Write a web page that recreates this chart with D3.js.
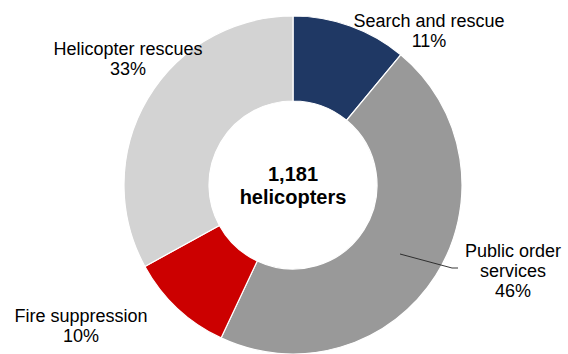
<!DOCTYPE html>
<html>
<head>
<meta charset="utf-8">
<script src="https://cdn.jsdelivr.net/npm/d3@7"></script>
<style>
  html, body { margin: 0; padding: 0; background: #fff; }
  svg { display: block; }
  text { font-family: "Liberation Sans", Arial, sans-serif; fill: #000; }
</style>
</head>
<body>
<svg id="chart" width="568" height="354"></svg>
<script>
const categories = ["Search and rescue", "Public order services", "Fire suppression", "Helicopter rescues"];
const values = [11, 46, 10, 33];
const labelLines = [["Search and rescue"], ["Public order", "services"], ["Fire suppression"], ["Helicopter rescues"]];
const colors = ["#1f3864", "#999999", "#cc0000", "#d3d3d3"];
const centerLines = ["1,181", "helicopters"];

const W = 568, H = 354;
const cx = 293, cy = 185, rOuter = 169, rInner = 84;
// label anchor layout (centre x, first baseline y)
const labelLayout = [
  {x: 429, y: 27},
  {x: 513, y: 257},
  {x: 81, y: 322},
  {x: 128, y: 55}
];

const svg = d3.select("#chart");
const g = svg.append("g").attr("transform", `translate(${cx},${cy})`);

const pie = d3.pie().sort(null).value(d => d.value);
const arcs = pie(categories.map((c, i) => ({cat: c, value: values[i], i})));
const arc = d3.arc().innerRadius(rInner).outerRadius(rOuter);

g.selectAll("path.slice").data(arcs).enter().append("path")
  .attr("class", "slice")
  .attr("d", arc)
  .attr("fill", d => colors[d.data.i])
  .attr("stroke", "#fff")
  .attr("stroke-width", 1.2);

// leader line for Public order services
const a1 = arcs[1];
const mid = (a1.startAngle + a1.endAngle) / 2;
const pStart = d3.arc().innerRadius(rOuter * 0.73).outerRadius(rOuter * 0.73).centroid(a1);
const lineY = labelLayout[1].y + 11 - cy;
g.append("polyline")
  .attr("points", [[400 - cx, 254 - cy], [452 - cx, lineY], [458 - cx, lineY]].map(p => p.join(",")).join(" "))
  .attr("fill", "none")
  .attr("stroke", "#222")
  .attr("stroke-width", 0.9);

// labels
arcs.forEach((d, i) => {
  const lay = labelLayout[i];
  const lines = labelLines[i].concat([values[i] + "%"]);
  const t = svg.append("text")
    .attr("text-anchor", "middle")
    .attr("font-size", 18);
  lines.forEach((ln, k) => {
    t.append("tspan").attr("x", lay.x).attr("y", lay.y + k * 20).text(ln);
  });
});

// centre text
const ct = svg.append("text")
  .attr("text-anchor", "middle")
  .attr("font-size", 20)
  .attr("font-weight", "bold");
centerLines.forEach((ln, k) => {
  ct.append("tspan").attr("x", cx).attr("y", 181 + k * 23).text(ln);
});
</script>
</body>
</html>
